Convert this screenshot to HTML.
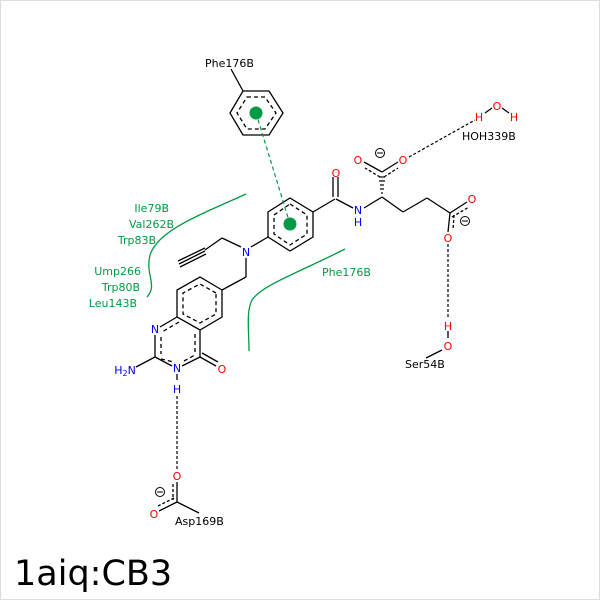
<!DOCTYPE html>
<html><head><style>
html,body{margin:0;padding:0;background:#fff}
svg{display:block}
text{font-family:"DejaVu Sans","Liberation Sans",sans-serif;font-size:11px}
</style></head><body>
<svg width="600" height="600" viewBox="0 0 600 600" xmlns="http://www.w3.org/2000/svg">
<rect x="0.5" y="0.5" width="599" height="599" fill="#fff" stroke="#ddd"/>
<g stroke="#000" stroke-width="1.3" fill="none">
<polygon points="243,91 269,91 283,113 269,135 243,135 230,113"/>
<polygon points="247,97 265,97 276,113 265,129 247,129 237,113" stroke-dasharray="4,3"/>
<line x1="243" y1="91" x2="231" y2="69"/>
<polygon points="290,198 313,212 313,237 290,251 268,237 268,212"/>
<polygon points="290,204 307,215 307,234 290,245 274,234 274,215" stroke-dasharray="4,3"/>
<line x1="313" y1="212" x2="335" y2="199"/>
<line x1="333" y1="197" x2="333" y2="177"/><line x1="338" y1="197" x2="338" y2="177"/>
<line x1="336" y1="199" x2="353" y2="208"/>
<line x1="364" y1="208" x2="382" y2="197"/>
<line x1="382" y1="197" x2="403" y2="212"/>
<line x1="403" y1="212" x2="427" y2="198"/>
<line x1="427" y1="198" x2="450" y2="213"/>
<line x1="450" y1="213" x2="467" y2="202"/>
<line x1="452" y1="217" x2="469" y2="207" stroke-dasharray="3,2"/>
<line x1="450" y1="213" x2="448" y2="232"/>
<line x1="454" y1="215" x2="453" y2="230" stroke-dasharray="3,2"/>
<line x1="382" y1="172" x2="364" y2="162"/>
<line x1="380" y1="177" x2="365" y2="168" stroke-dasharray="3,2"/>
<line x1="382" y1="172" x2="398" y2="162"/>
<line x1="384" y1="177" x2="398" y2="168" stroke-dasharray="3,2"/>
<line x1="268" y1="237" x2="251" y2="247"/>
<line x1="241" y1="247" x2="222" y2="238"/>
<line x1="222" y1="238" x2="205" y2="250"/>
<line x1="205" y1="248" x2="178" y2="261"/>
<line x1="205" y1="251" x2="179" y2="264"/>
<line x1="206" y1="254" x2="180" y2="267"/>
<line x1="246" y1="258" x2="246" y2="277"/>
<line x1="246" y1="277" x2="222" y2="290"/>
<polygon points="222,290 200,277 177,290 177,317 200,330 222,317"/>
<polygon points="216,293 200,284 183,293 183,314 200,323 216,314" stroke-dasharray="4,3"/>
<line x1="177" y1="317" x2="160" y2="327"/>
<line x1="155" y1="335" x2="155" y2="357"/>
<line x1="155" y1="357" x2="172" y2="366"/>
<line x1="182" y1="366" x2="200" y2="357"/>
<line x1="200" y1="357" x2="200" y2="330"/>
<line x1="200" y1="357" x2="216" y2="366"/><line x1="202" y1="353" x2="218" y2="362"/>
<line x1="155" y1="357" x2="136" y2="367"/>
<path d="M179,322 L162,332 M161,337 L161,354 M161,359 L174,362 M184,361 L195,355 M195,352 L195,334" stroke-dasharray="4,3"/>
<line x1="177" y1="374" x2="177" y2="380"/>
<line x1="177" y1="482" x2="177" y2="502"/>
<line x1="173" y1="484" x2="173" y2="500" stroke-dasharray="3,2"/>
<line x1="177" y1="502" x2="159" y2="511"/>
<line x1="174" y1="498" x2="158" y2="506" stroke-dasharray="3,2"/>
<line x1="177" y1="502" x2="199" y2="513"/>
<line x1="448" y1="331" x2="448" y2="338"/>
<line x1="442" y1="350" x2="426" y2="358"/>
<line x1="485" y1="113" x2="492" y2="108"/>
<line x1="502" y1="108" x2="509" y2="113"/>
</g>
<g stroke="#000" stroke-width="1.2">
<line x1="381" y1="193" x2="383" y2="193"/><line x1="380" y1="189" x2="384" y2="189"/><line x1="380" y1="185" x2="384" y2="185"/><line x1="379" y1="181" x2="385" y2="181"/><line x1="379" y1="177" x2="385" y2="177"/>
</g>
<g stroke="#000" stroke-width="1.2" stroke-dasharray="3,2" fill="none">
<line x1="409" y1="157" x2="475" y2="120"/>
<line x1="448" y1="244" x2="448" y2="318"/>
<line x1="177" y1="396" x2="177" y2="470"/>
</g>
<line x1="256" y1="113" x2="290" y2="224" stroke="#009944" stroke-width="1.2" stroke-dasharray="4,3"/>
<circle cx="256" cy="113" r="6.5" fill="#009944"/>
<circle cx="290" cy="224" r="6.5" fill="#009944"/>
<g stroke="#009944" stroke-width="1.3" fill="none">
<path d="M246,194 C200,215 158,230 150,255 C145,275 158,285 147,297"/>
<path d="M345,249 C300,272 262,285 252,300 C246,312 249,330 249,351"/>
</g>
<g fill="#009944">
<text x="169" y="212" text-anchor="end">Ile79B</text>
<text x="174" y="228" text-anchor="end">Val262B</text>
<text x="156" y="244" text-anchor="end">Trp83B</text>
<text x="141" y="275" text-anchor="end">Ump266</text>
<text x="140" y="291" text-anchor="end">Trp80B</text>
<text x="137" y="307" text-anchor="end">Leu143B</text>
<text x="322" y="276">Phe176B</text>
</g>
<g fill="#000">
<text x="205" y="67">Phe176B</text>
<text x="462" y="140">HOH339B</text>
<text x="405" y="368">Ser54B</text>
<text x="175" y="525">Asp169B</text>
</g>
<g fill="#0000ff" text-anchor="middle">
<text x="246" y="256">N</text>
<text x="358" y="214">N</text>
<text x="358" y="226">H</text>
<text x="155" y="333">N</text>
<text x="177" y="372">N</text>
<text x="177" y="393">H</text>
<text x="125" y="374">H<tspan font-size="8" dy="2">2</tspan><tspan dy="-2">N</tspan></text>
</g>
<g fill="#ff0000" text-anchor="middle">
<text x="336" y="177">O</text>
<text x="358" y="164">O</text>
<text x="403" y="164">O</text>
<text x="472" y="203">O</text>
<text x="448" y="242">O</text>
<text x="222" y="373">O</text>
<text x="177" y="480">O</text>
<text x="154" y="518">O</text>
<text x="448" y="330">H</text>
<text x="448" y="350">O</text>
<text x="497" y="110">O</text>
<text x="479" y="121">H</text>
<text x="514" y="121">H</text>
</g>
<g fill="none" stroke="#000" stroke-width="1">
<circle cx="380" cy="153" r="4.5"/><line x1="377" y1="153" x2="383" y2="153"/>
<circle cx="465" cy="221" r="4.5"/><line x1="462" y1="221" x2="468" y2="221"/>
<circle cx="160" cy="492" r="4.5"/><line x1="157" y1="492" x2="163" y2="492"/>
</g>
<text x="14" y="585" style="font-size:35px" fill="#000">1aiq:CB3</text>
</svg>
</body></html>
